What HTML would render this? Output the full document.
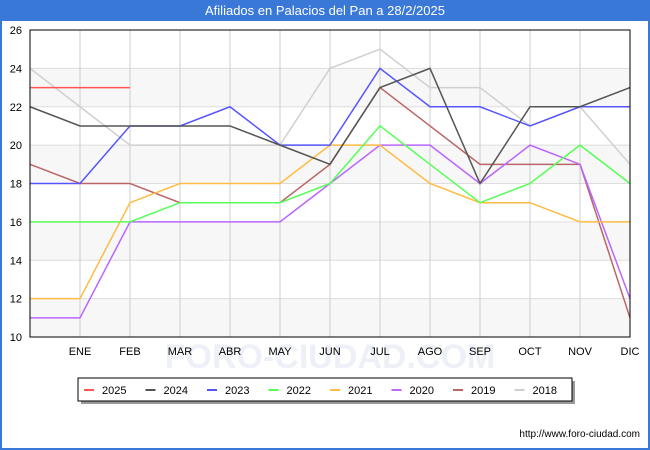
<!DOCTYPE html>
<html><head><meta charset="utf-8"><style>
body{margin:0;background:#fff;font-family:"Liberation Sans",sans-serif;}
#wrap{position:relative;width:650px;height:450px;background:#fff;box-sizing:border-box;border:2px solid #3a78d8;border-top:none;}
</style></head><body>
<div id="wrap">
<svg id="c" width="650" height="450" style="position:absolute;left:-2px;top:0">
<rect x="0" y="0" width="650" height="21" fill="#3a78d8"/>
<text x="325" y="15" text-anchor="middle" font-size="13" fill="#fff">Afiliados en Palacios del Pan a 28/2/2025</text>
<g id="bands"></g><g id="grid"></g>
<text x="330" y="368" text-anchor="middle" font-size="34" fill="#eef0f8" font-weight="bold">FORO-CIUDAD.COM</text>
<g id="series"></g>
<rect x="30" y="30" width="600" height="307" fill="none" stroke="#000" stroke-width="1"/>
<g id="labels"></g>
<rect x="81" y="381" width="494" height="23" fill="#999"/>
<rect x="78" y="378" width="494" height="23" fill="#fff" stroke="#000" stroke-width="1"/>
<g id="legend"></g>
<text x="640" y="437" text-anchor="end" font-size="10" fill="#000">http://www.foro-ciudad.com</text>
</svg></div>
<script>
const months=["","ENE","FEB","MAR","ABR","MAY","JUN","JUL","AGO","SEP","OCT","NOV","DIC"];
const yTicks=[10,12,14,16,18,20,22,24,26];
const years=["2025","2024","2023","2022","2021","2020","2019","2018"];
const colors=["#ff5555","#555555","#5555ff","#55ff55","#ffbb44","#bb66ff","#bb6666","#d0d0d0"];
const s2025=[23,23,23];
const s2024=[22,21,21,21,21,20,19,23,24,18,22,22,23];
const s2023=[18,18,21,21,22,20,20,24,22,22,21,22,22];
const s2022=[16,16,16,17,17,17,18,21,19,17,18,20,18];
const s2021=[12,12,17,18,18,18,20,20,18,17,17,16,16];
const s2020=[11,11,16,16,16,16,18,20,20,18,20,19,12];
const s2019=[19,18,18,17,17,17,19,23,21,19,19,19,11];
const s2018=[24,22,20,20,20,20,24,25,23,23,21,22,19];
const allSeries=[s2025,s2024,s2023,s2022,s2021,s2020,s2019,s2018];
const NS="http://www.w3.org/2000/svg";
const X=i=>30+i*50, Y=v=>337-(v-10)*(307/16);
function mk(t,a,p){const e=document.createElementNS(NS,t);for(const k in a)e.setAttribute(k,a[k]);p.appendChild(e);return e;}
const bands=document.getElementById('bands'),grid=document.getElementById('grid'),labels=document.getElementById('labels');
for(let i=0;i<yTicks.length-1;i+=2){
 const r=mk('rect',{x:30,y:Y(yTicks[i+1]),width:600,height:Y(yTicks[i])-Y(yTicks[i+1]),fill:'#f7f7f7'},bands);
 
 
}
yTicks.forEach(v=>{
 const l=mk('line',{x1:30,x2:630,y1:Y(v),y2:Y(v),stroke:'#ddd'},grid);
 
 
 const t=mk('text',{x:22,y:Y(v)+4,'text-anchor':'end','font-size':11},labels);t.textContent=v;
 
 
});
months.forEach((m,i)=>{
 if(i>0){const l=mk('line',{x1:X(i),x2:X(i),y1:30,y2:337,stroke:'#ccc'},grid);
 
 }
 const t=mk('text',{x:X(i),y:355,'text-anchor':'middle','font-size':11},labels);t.textContent=m;
 
 
});
const sg=document.getElementById('series');
for(let k=allSeries.length-1;k>=0;k--){
 const pts=allSeries[k].map((v,i)=>X(i)+','+Y(v)).join(' ');
 const p=mk('polyline',{points:pts,fill:'none',stroke:colors[k],'stroke-width':1.5},sg);
 
 
}
const lg=document.getElementById('legend');
years.forEach((y,k)=>{
 const x0=84+k*61.5;
 const g=mk('g',{},lg);
 
 
 mk('line',{x1:x0,x2:x0+10,y1:390,y2:390,stroke:colors[k],'stroke-width':2},g);
 const t=mk('text',{x:x0+18,y:394,'font-size':11},g);t.textContent=y;
});
</script></body></html>
